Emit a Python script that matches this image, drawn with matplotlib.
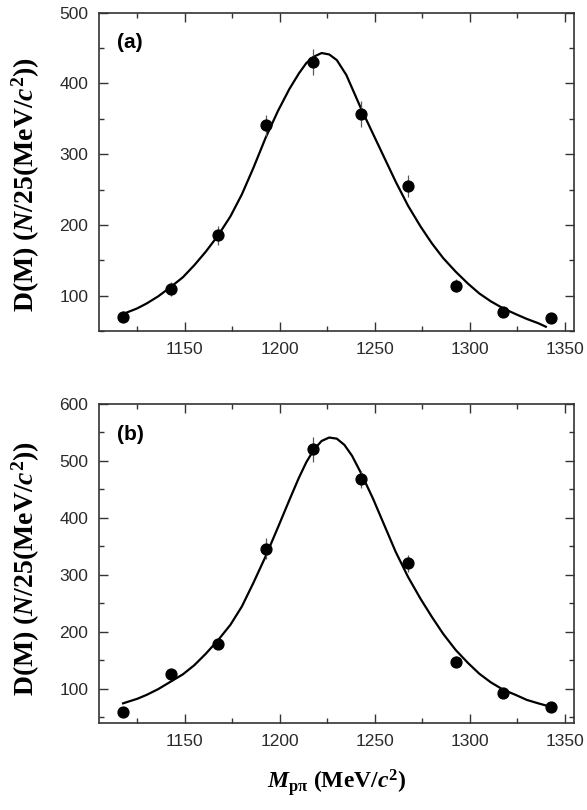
import numpy as np
import matplotlib
matplotlib.use('Agg')
from matplotlib import pyplot as plt
from matplotlib.ticker import MultipleLocator

plt.rcParams['mathtext.fontset'] = 'custom'
plt.rcParams['mathtext.rm'] = 'Liberation Serif:bold'
plt.rcParams['mathtext.it'] = 'Liberation Serif:italic:bold'
plt.rcParams['mathtext.bf'] = 'Liberation Serif:bold'

# measured points (bin centres, MeV/c^2)
mass = [1117.5, 1142.5, 1167.5, 1192.5, 1217.5, 1242.5, 1267.5, 1292.5, 1317.5, 1342.5]

data_a = [70, 109, 185, 341, 430, 357, 255, 114, 77, 68]
err_a = [8, 10, 14, 15, 18, 18, 16, 9, 7, 7]

data_b = [58, 126, 179, 346, 520, 468, 320, 147, 92, 68]
err_b = [6, 7, 10, 19, 22, 15, 15, 10, 9, 6]

# fitted curves
fit_m_a = [1117.5, 1125, 1130, 1136, 1142.5, 1149, 1155, 1161, 1167.5, 1174,
           1180, 1186, 1192.5, 1199, 1205, 1210, 1214, 1218, 1222, 1226,
           1230, 1235, 1242.5, 1249, 1255, 1261, 1267.5, 1274, 1280, 1286,
           1292.5, 1299, 1305, 1311, 1317.5, 1324, 1330, 1336, 1340]
fit_a = [74, 82, 89, 99, 112, 126, 143, 162, 185, 212,
         243, 280, 323, 361, 392, 414, 429, 438, 443, 441,
         433, 412, 366, 329, 295, 261, 227, 198, 174, 153,
         134, 117, 103, 92, 82, 74, 67, 61, 56]

fit_m_b = [1117.5, 1125, 1130, 1136, 1142.5, 1149, 1155, 1161, 1167.5, 1174,
           1180, 1186, 1192.5, 1199, 1205, 1210, 1214, 1218, 1222, 1226,
           1230, 1234, 1238, 1242.5, 1249, 1255, 1261, 1267.5, 1274, 1280,
           1286, 1292.5, 1299, 1305, 1311, 1317.5, 1324, 1330, 1336, 1342.5]
fit_b = [74, 82, 89, 99, 112, 125, 141, 161, 185, 212,
         244, 285, 332, 383, 431, 470, 498, 520, 535, 541,
         539, 528, 509, 480, 434, 387, 340, 296, 258, 226,
         196, 168, 145, 126, 111, 98, 89, 80, 74, 68]

panels = [
    dict(pts=data_a, err=err_a, fm=fit_m_a, fv=fit_a, ylim=(50, 500), tag='(a)',
         rect=[0.1692, 0.5914, 0.8092, 0.3929], ly=0.46),
    dict(pts=data_b, err=err_b, fm=fit_m_b, fv=fit_b, ylim=(40, 600), tag='(b)',
         rect=[0.1692, 0.1078, 0.8092, 0.3935], ly=0.485),
]

fig = plt.figure(figsize=(5.87, 8.10), dpi=100)

for i, p in enumerate(panels):
    ax = fig.add_axes(p['rect'])
    ax.plot(p['fm'], p['fv'], color='black', lw=1.6, zorder=2,
            solid_joinstyle='round')
    ax.errorbar(mass, p['pts'], yerr=p['err'], fmt='o', color='black', ms=7.8,
                ecolor='#5a5a5a', elinewidth=0.9, capsize=0, zorder=3)
    ax.set_xlim(1105, 1355)
    ax.set_ylim(*p['ylim'])
    ax.xaxis.set_major_locator(MultipleLocator(50))
    ax.xaxis.set_minor_locator(MultipleLocator(25))
    ax.yaxis.set_major_locator(MultipleLocator(100))
    ax.yaxis.set_minor_locator(MultipleLocator(50))
    ax.tick_params(which='both', direction='in', top=True, right=True,
                   color='#333333', width=1.0)
    ax.tick_params(which='major', length=6.5, pad=8, labelsize=12.5,
                   labelcolor='#2a2a2a')
    ax.tick_params(which='minor', length=3.5)
    for lab in ax.get_xticklabels() + ax.get_yticklabels():
        lab.set_family('Liberation Sans')
    for s in ax.spines.values():
        s.set_linewidth(1.2)
        s.set_color('#333333')
    ax.text(0.037, 0.905, p['tag'], transform=ax.transAxes, fontsize=15,
            fontweight='bold', family='Liberation Sans', va='center')
    ax.set_ylabel(r'D(M) ($N$/25(MeV/$c^2$))', family='Liberation Serif',
                  fontweight='bold', fontsize=20, va='center')
    ax.yaxis.set_label_coords(-0.155, p['ly'])
    if i == 1:
        ax.set_xlabel(r'$M_{\mathrm{p\pi}}$ (MeV/$c^2$)', family='Liberation Serif',
                      fontweight='bold', fontsize=17, va='baseline')
        ax.xaxis.set_label_coords(0.5, -0.205)

fig.savefig('out.png', dpi=100)
